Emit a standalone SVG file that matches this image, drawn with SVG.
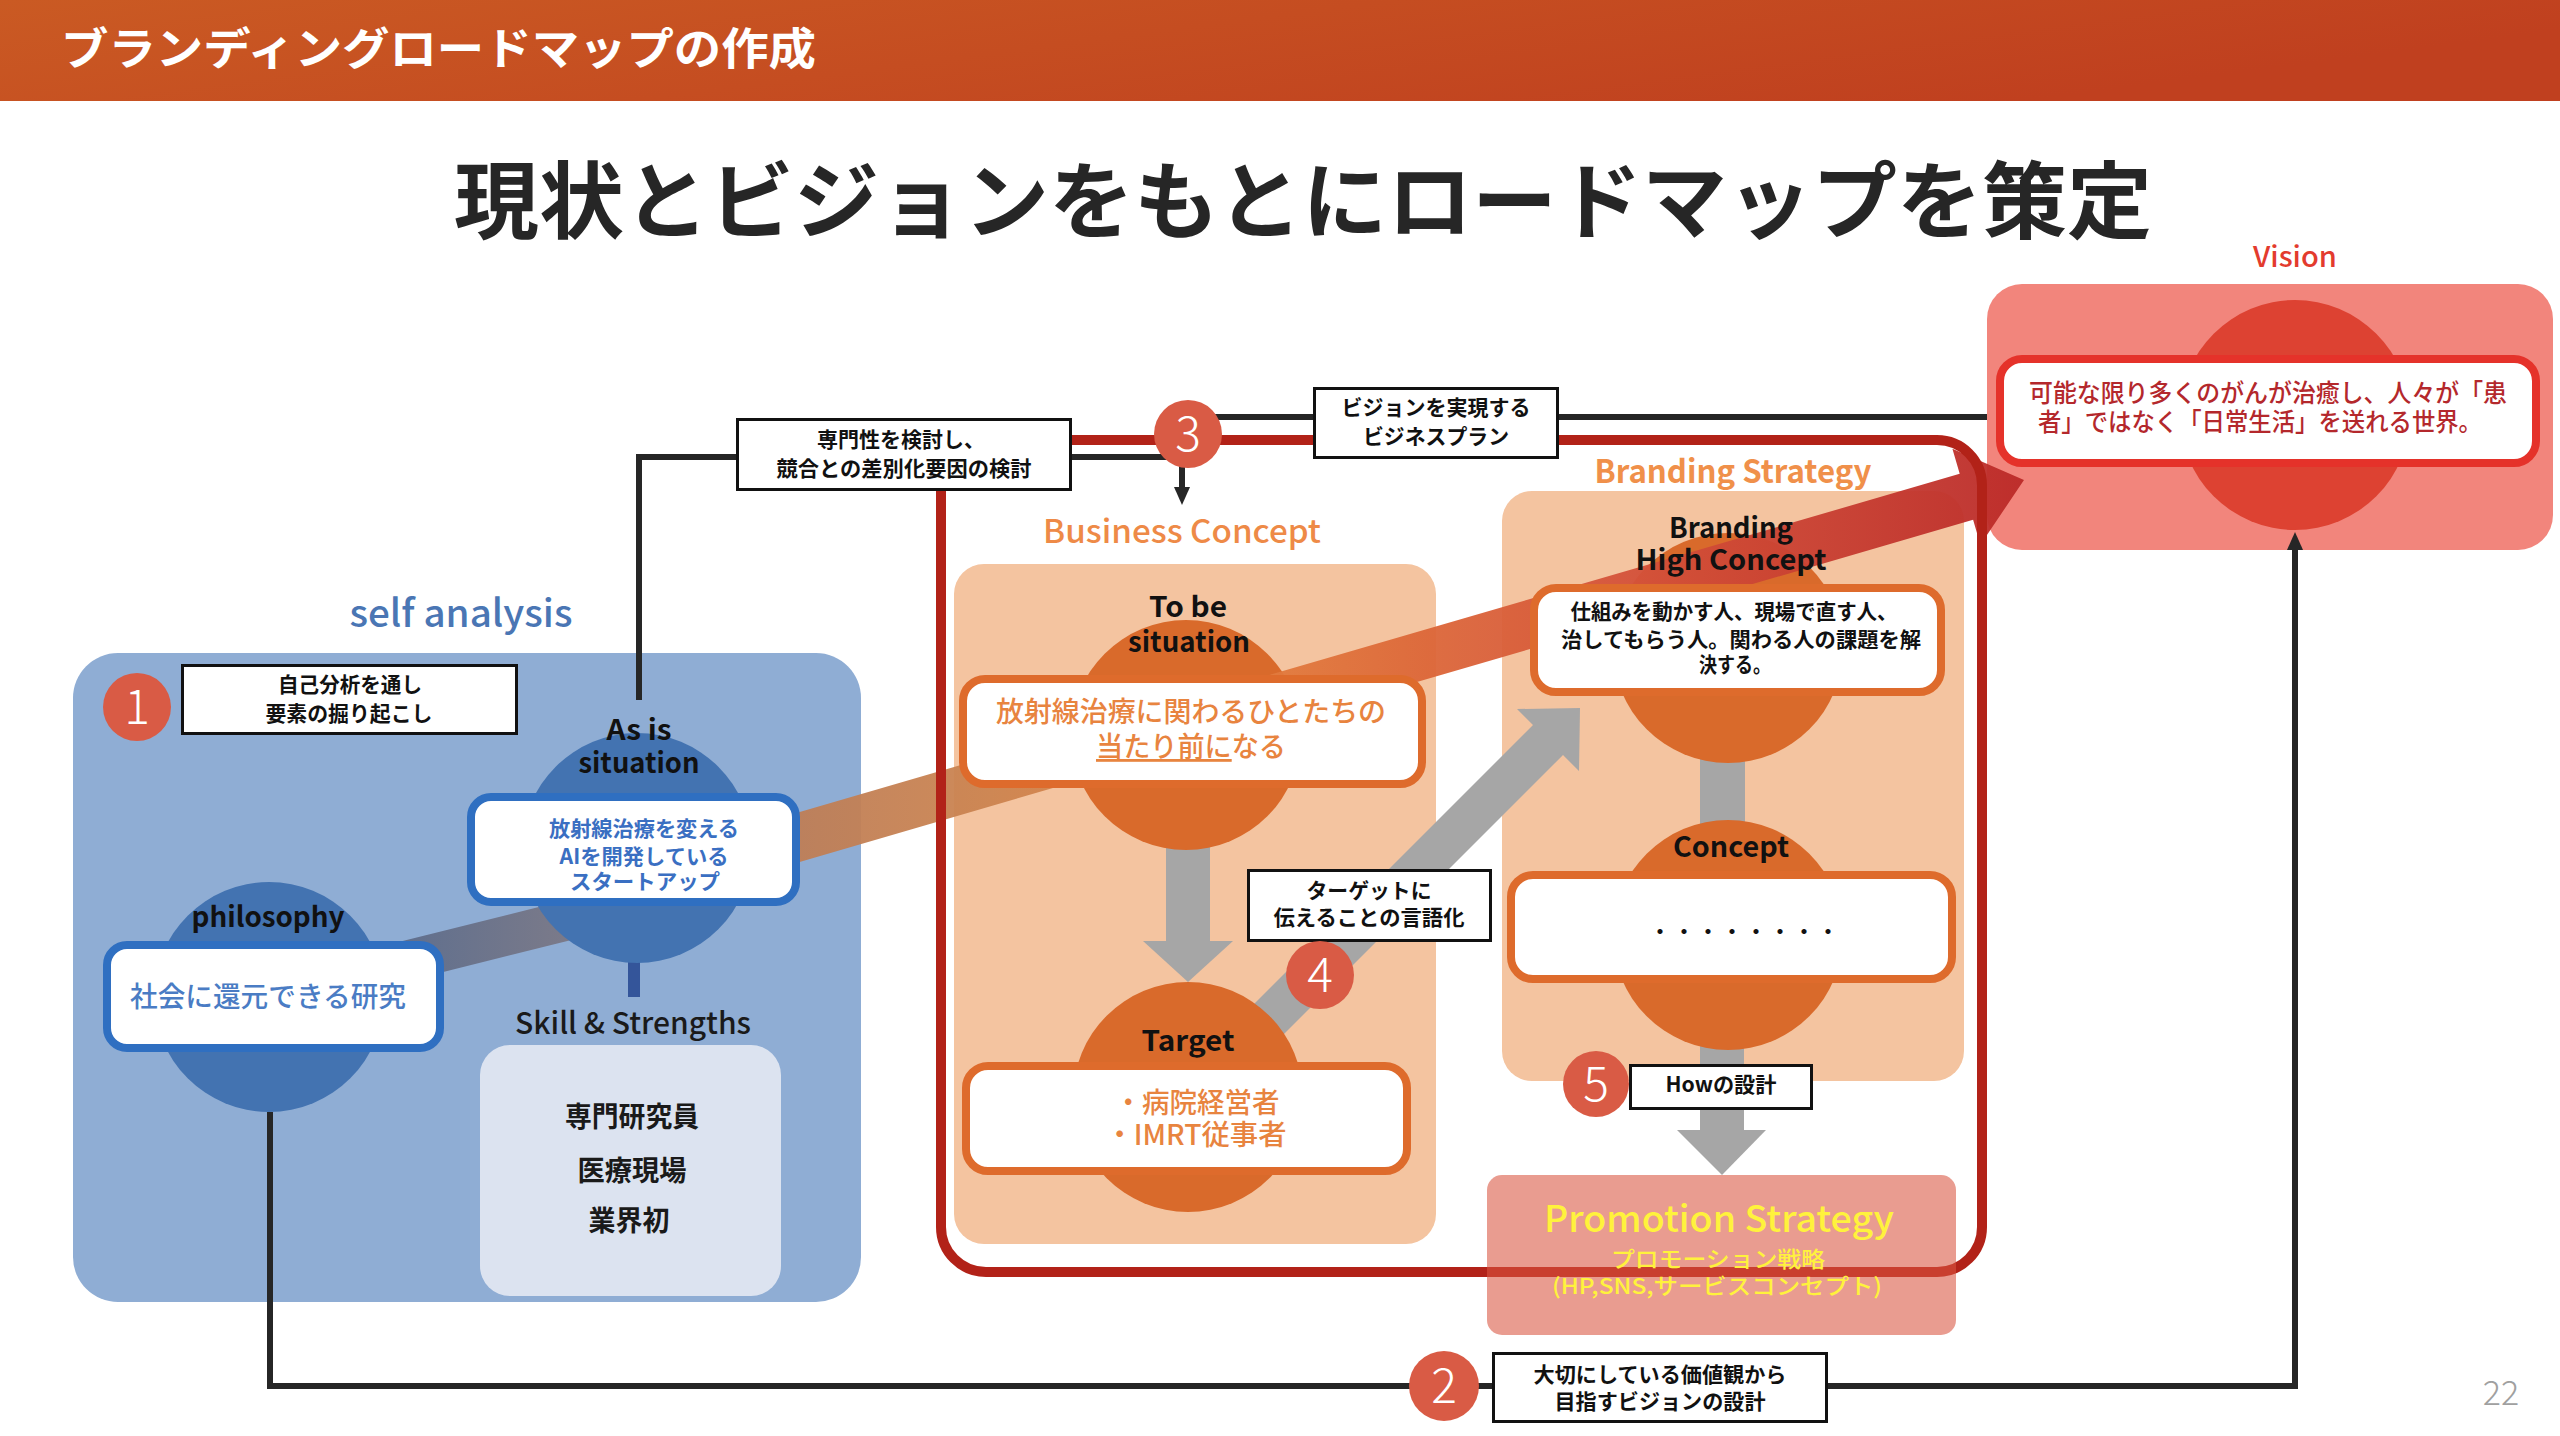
<svg xmlns="http://www.w3.org/2000/svg" width="2560" height="1436" viewBox="0 0 2560 1436">
<defs>
<style>
text{font-family:'Noto Sans CJK JP','Noto Sans',sans-serif;}
.c{text-anchor:middle;}
.lbl{font-size:21px;font-weight:bold;fill:#111;text-anchor:middle;}
.lblbox{fill:#fff;stroke:#111;stroke-width:3;}
.en{font-size:28px;font-weight:bold;fill:#111;text-anchor:middle;}
.badge{fill:#d95b45;}
.num{font-size:48px;font-weight:300;fill:#fff;text-anchor:middle;}
.bcirc{fill:#4373b1;}
.ocirc{fill:#d96a2b;}
.bbox{fill:#fff;stroke:#2f6fc1;stroke-width:8;}
.obox{fill:#fff;stroke:#de6b2c;stroke-width:8;}
.peach{fill:#f4c4a0;}
.gray{fill:#a6a6a6;}
.blk{fill:none;stroke:#262626;stroke-width:6;}
.otxt{font-size:28px;fill:#e8843f;text-anchor:middle;font-weight:500;}
</style>
<linearGradient id="hdr" x1="0" y1="0" x2="1" y2="0.3">
<stop offset="0" stop-color="#ca5a23"/><stop offset="1" stop-color="#c0401f"/>
</linearGradient>
<linearGradient id="gBand" gradientUnits="userSpaceOnUse" x1="700" y1="0" x2="2024" y2="0">
<stop offset="0" stop-color="#b77b5a"/>
<stop offset="0.22" stop-color="#cc8450"/>
<stop offset="0.4" stop-color="#e3803f"/>
<stop offset="0.55" stop-color="#dc6638"/>
<stop offset="0.7" stop-color="#d4523a"/>
<stop offset="1" stop-color="#bb2a28"/>
</linearGradient>
<linearGradient id="gPhil" gradientUnits="userSpaceOnUse" x1="400" y1="0" x2="580" y2="0">
<stop offset="0" stop-color="#5f6f8e"/><stop offset="1" stop-color="#7d7b89"/>
</linearGradient>
<marker id="arr" markerUnits="userSpaceOnUse" markerWidth="18" markerHeight="16" viewBox="0 0 18 16" refX="0" refY="8" orient="auto">
<path d="M0,0 L18,8 L0,16 z" fill="#262626"/>
</marker>
</defs>

<g id="header">
<rect x="0" y="0" width="2560" height="101" fill="url(#hdr)"/>
<text x="61" y="65" font-size="44" font-weight="bold" fill="#fff" textLength="755" lengthAdjust="spacingAndGlyphs">ブランディングロードマップの作成</text>
</g>
<g id="title">
<text x="454" y="232" font-size="84" font-weight="bold" fill="#262626" textLength="1698" lengthAdjust="spacingAndGlyphs">現状とビジョンをもとにロードマップを策定</text>
</g>

<g id="panels">
<rect id="self-analysis-panel" x="73" y="653" width="788" height="649" rx="45" fill="#8fadd4"/>
<rect id="skill-panel" x="480" y="1045" width="301" height="251" rx="30" fill="#dce3f0"/>
<rect id="business-panel" class="peach" x="954" y="564" width="482" height="680" rx="30"/>
<rect id="branding-panel" class="peach" x="1502" y="491" width="462" height="590" rx="30"/>
<rect id="vision-panel" x="1987" y="284" width="566" height="266" rx="35" fill="#f2857c"/>
</g>

<g id="section-titles">
<text class="c" x="461" y="627" font-size="38" font-weight="500" fill="#4a76b4" textLength="223" lengthAdjust="spacingAndGlyphs">self analysis</text>
<text class="c" x="2295" y="267" font-size="28" font-weight="500" fill="#e33b2e" textLength="84" lengthAdjust="spacingAndGlyphs">Vision</text>
<text class="c" x="1182" y="543" font-size="32" font-weight="500" fill="#ee8a47" textLength="278" lengthAdjust="spacingAndGlyphs">Business Concept</text>
<text class="c" x="1733" y="483" font-size="32" font-weight="bold" fill="#f0904a" textLength="277" lengthAdjust="spacingAndGlyphs">Branding Strategy</text>
</g>

<g id="connectors">
<polyline class="blk" points="270,1112 270,1386 2295,1386 2295,550" marker-end="url(#arr)"/>
<polyline class="blk" points="639,700 639,457 1170,457"/>
<line class="blk" x1="1182" y1="460" x2="1182" y2="487" marker-end="url(#arr)"/>
<line class="blk" x1="1188" y1="417" x2="1987" y2="417"/>
<line x1="269" y1="995" x2="637" y2="903" stroke="url(#gPhil)" stroke-width="40"/>
<rect x="628" y="958" width="12" height="39" fill="#34559a"/>
<rect class="gray" x="1166" y="845" width="44" height="97"/>
<polygon class="gray" points="1143,941 1233,941 1188,982"/>
<rect class="gray" x="1700" y="755" width="45" height="70"/>
<rect class="gray" x="1700" y="1045" width="44" height="86"/>
<polygon class="gray" points="1677,1130 1766,1130 1722,1175"/>
<polygon class="gray" points="1175,1083 1533,725 1517,709 1580,708 1579,771 1563,755 1205,1113"/>
</g>

<g id="circles">
<circle class="bcirc" cx="269" cy="997" r="115"/>
<circle class="bcirc" cx="637" cy="848" r="115"/>
<circle class="ocirc" cx="1186" cy="735" r="115"/>
<circle class="ocirc" cx="1188" cy="1097" r="115"/>
<circle class="ocirc" cx="1728" cy="648" r="115"/>
<circle class="ocirc" cx="1728" cy="935" r="115"/>
<circle cx="2295" cy="415" r="115" fill="#dd4232"/>
</g>

<g id="main-flow-arrow">
<polygon points="693.3,843 1959.7,473.8 1952.4,448.8 2024,480 1980.4,544.8 1973.1,519.8 706.7,889" fill="url(#gBand)" opacity="0.95"/>
</g>

<g id="frame">
<rect x="941" y="440" width="1041" height="832" rx="45" fill="none" stroke="#b22218" stroke-width="10"/>
</g>

<g id="philosophy">
<text class="en" x="268" y="927" textLength="153" lengthAdjust="spacingAndGlyphs">philosophy</text>
<rect class="bbox" x="107" y="945" width="333" height="103" rx="20"/>
<text class="c" x="268" y="1007" font-size="28" font-weight="500" fill="#4a7cc4" textLength="276" lengthAdjust="spacingAndGlyphs">社会に還元できる研究</text>
</g>

<g id="as-is">
<text class="en" x="639" y="740" textLength="65" lengthAdjust="spacingAndGlyphs">As is</text>
<text class="en" x="639" y="773" textLength="121" lengthAdjust="spacingAndGlyphs">situation</text>
<rect class="bbox" x="471" y="797" width="325" height="105" rx="20"/>
<text class="c" x="644" y="836" font-size="21" font-weight="bold" fill="#3a6fc2" textLength="190" lengthAdjust="spacingAndGlyphs">放射線治療を変える</text>
<text class="c" x="644" y="864" font-size="21" font-weight="bold" fill="#3a6fc2" textLength="169" lengthAdjust="spacingAndGlyphs">AIを開発している</text>
<text class="c" x="645" y="889" font-size="21" font-weight="bold" fill="#3a6fc2" textLength="150" lengthAdjust="spacingAndGlyphs">スタートアップ</text>
</g>

<g id="skill">
<text class="c" x="633" y="1034" font-size="30" font-weight="500" fill="#1a1a1a" textLength="236" lengthAdjust="spacingAndGlyphs">Skill &amp; Strengths</text>
<text class="c" x="632" y="1127" font-size="28" font-weight="bold" fill="#1a1a1a" textLength="134" lengthAdjust="spacingAndGlyphs">専門研究員</text>
<text class="c" x="632" y="1181" font-size="28" font-weight="bold" fill="#1a1a1a" textLength="109" lengthAdjust="spacingAndGlyphs">医療現場</text>
<text class="c" x="629" y="1231" font-size="28" font-weight="bold" fill="#1a1a1a" textLength="81" lengthAdjust="spacingAndGlyphs">業界初</text>
</g>

<g id="to-be">
<text class="en" x="1188" y="617" textLength="78" lengthAdjust="spacingAndGlyphs">To be</text>
<text class="en" x="1189" y="652" textLength="122" lengthAdjust="spacingAndGlyphs">situation</text>
<rect class="obox" x="963" y="679" width="459" height="105" rx="22"/>
<text class="otxt" x="1191" y="722" textLength="390" lengthAdjust="spacingAndGlyphs">放射線治療に関わるひとたちの</text>
<text class="otxt" x="1191" y="757" textLength="190" lengthAdjust="spacingAndGlyphs"><tspan text-decoration="underline">当たり前に</tspan>なる</text>
</g>

<g id="target">
<text class="en" x="1188" y="1051" textLength="93" lengthAdjust="spacingAndGlyphs">Target</text>
<rect class="obox" x="966" y="1066" width="441" height="105" rx="22"/>
<text class="otxt" x="1197" y="1113" textLength="165" lengthAdjust="spacingAndGlyphs">・病院経営者</text>
<text class="otxt" x="1196" y="1145" textLength="181" lengthAdjust="spacingAndGlyphs">・IMRT従事者</text>
</g>

<g id="high-concept">
<text class="en" x="1731" y="538" textLength="124" lengthAdjust="spacingAndGlyphs">Branding</text>
<text class="en" x="1731" y="570" textLength="191" lengthAdjust="spacingAndGlyphs">High Concept</text>
<rect class="obox" x="1534" y="588" width="407" height="104" rx="22"/>
<text class="lbl" x="1734" y="619" textLength="327" lengthAdjust="spacingAndGlyphs">仕組みを動かす人、現場で直す人、</text>
<text class="lbl" x="1741" y="647" textLength="360" lengthAdjust="spacingAndGlyphs">治してもらう人。関わる人の課題を解</text>
<text class="lbl" x="1735" y="672" textLength="72" lengthAdjust="spacingAndGlyphs">決する。</text>
</g>

<g id="concept">
<text class="en" x="1731" y="857" textLength="116" lengthAdjust="spacingAndGlyphs">Concept</text>
<rect class="obox" x="1511" y="875" width="441" height="104" rx="22"/>
<text class="c" x="1744" y="940" font-size="24" fill="#111" textLength="192" lengthAdjust="spacingAndGlyphs">・・・・・・・・</text>
</g>

<g id="vision">
<rect x="2000" y="359" width="536" height="104" rx="22" fill="#fff" stroke="#e5322a" stroke-width="8"/>
<text class="c" x="2268" y="402" font-size="25" font-weight="500" fill="#b4282c" textLength="478" lengthAdjust="spacingAndGlyphs">可能な限り多くのがんが治癒し、人々が「患</text>
<text class="c" x="2260" y="431" font-size="25" font-weight="500" fill="#b4282c" textLength="444" lengthAdjust="spacingAndGlyphs">者」ではなく「日常生活」を送れる世界。</text>
</g>

<g id="promotion">
<rect x="1487" y="1175" width="469" height="160" rx="15" fill="#d95440" fill-opacity="0.58"/>
<text class="c" x="1719" y="1232" font-size="36" font-weight="500" fill="#fff23c" textLength="350" lengthAdjust="spacingAndGlyphs">Promotion Strategy</text>
<text class="c" x="1718" y="1267" font-size="22" font-weight="500" fill="#fff23c" textLength="214" lengthAdjust="spacingAndGlyphs">プロモーション戦略</text>
<text class="c" x="1717" y="1294" font-size="22" font-weight="500" fill="#fff23c" textLength="330" lengthAdjust="spacingAndGlyphs">(HP,SNS,サービスコンセプト)</text>
</g>

<g id="step1">
<circle class="badge" cx="137" cy="707" r="34"/>
<text class="num" x="137" y="724">1</text>
<rect class="lblbox" x="182.5" y="665.5" width="334" height="68"/>
<text class="lbl" x="350" y="692" textLength="144" lengthAdjust="spacingAndGlyphs">自己分析を通し</text>
<text class="lbl" x="349" y="721" textLength="167" lengthAdjust="spacingAndGlyphs">要素の掘り起こし</text>
</g>

<g id="step3">
<rect class="lblbox" x="737.5" y="419.5" width="333" height="70"/>
<text class="lbl" x="901" y="447" textLength="168" lengthAdjust="spacingAndGlyphs">専門性を検討し、</text>
<text class="lbl" x="904" y="476" textLength="255" lengthAdjust="spacingAndGlyphs">競合との差別化要因の検討</text>
<circle class="badge" cx="1188" cy="434" r="34"/>
<text class="num" x="1188" y="451">3</text>
<rect class="lblbox" x="1314.5" y="388.5" width="243" height="69"/>
<text class="lbl" x="1436" y="415" textLength="189" lengthAdjust="spacingAndGlyphs">ビジョンを実現する</text>
<text class="lbl" x="1436" y="444" textLength="146" lengthAdjust="spacingAndGlyphs">ビジネスプラン</text>
</g>

<g id="step4">
<rect class="lblbox" x="1248.5" y="870.5" width="242" height="70"/>
<text class="lbl" x="1369" y="898" textLength="125" lengthAdjust="spacingAndGlyphs">ターゲットに</text>
<text class="lbl" x="1369" y="925" textLength="191" lengthAdjust="spacingAndGlyphs">伝えることの言語化</text>
<circle class="badge" cx="1320" cy="975" r="34"/>
<text class="num" x="1320" y="992">4</text>
</g>

<g id="step5">
<circle class="badge" cx="1596" cy="1084" r="33"/>
<text class="num" x="1596" y="1101">5</text>
<rect class="lblbox" x="1630.5" y="1065.5" width="181" height="43"/>
<text class="lbl" x="1721" y="1092" textLength="111" lengthAdjust="spacingAndGlyphs">Howの設計</text>
</g>

<g id="step2">
<circle class="badge" cx="1444" cy="1386" r="35"/>
<text class="num" x="1444" y="1403">2</text>
<rect class="lblbox" x="1493.5" y="1353.5" width="333" height="68"/>
<text class="lbl" x="1660" y="1382" textLength="253" lengthAdjust="spacingAndGlyphs">大切にしている価値観から</text>
<text class="lbl" x="1660" y="1409" textLength="211" lengthAdjust="spacingAndGlyphs">目指すビジョンの設計</text>
</g>

<g id="page-number">
<text class="c" x="2501" y="1405" font-size="34" font-weight="300" fill="#a0a0a0">22</text>
</g>
</svg>
